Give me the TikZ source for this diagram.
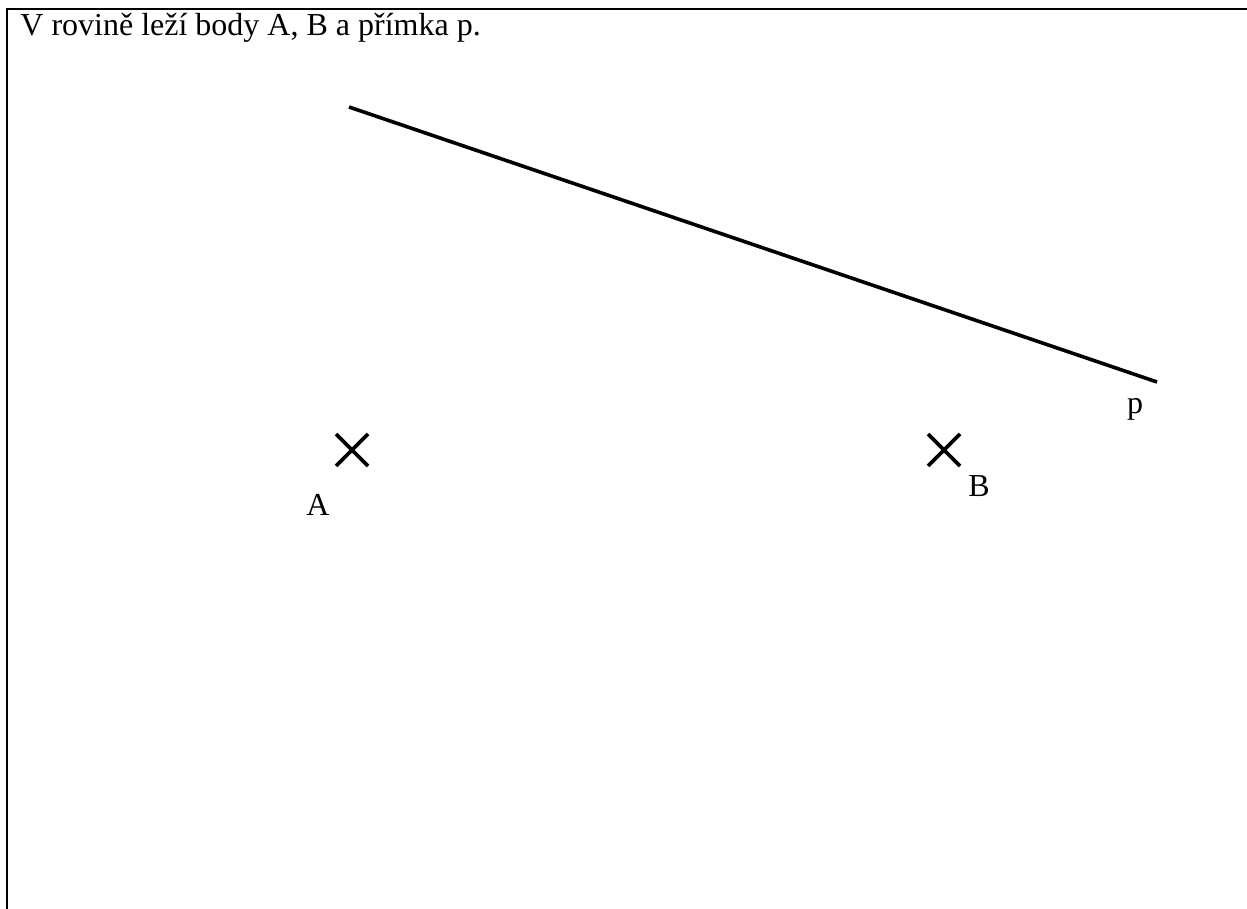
\documentclass[tikz,border=0pt]{standalone}
\usepackage{fontspec}
\setmainfont{Liberation Serif}
\begin{document}
\begin{tikzpicture}[x=0.5pt, y=-0.5pt, font=\fontsize{16}{19}\selectfont]
	\tikzset{bod/.style={line width=1.9pt}, popis/.style={inner sep=0pt, anchor=base}}
	\useasboundingbox (0,0) rectangle (1247,909);
	\draw[line width=1.4pt] (7,909) -- (7,9) -- (1247,9);
	\node[inner sep=0pt, anchor=base west] (zadani) at (20,36) {V rovině leží body A, B a přímka p.};
	\coordinate (p1) at (349,107);
	\coordinate (p2) at (1157,382);
	\draw[line width=1.8pt] (p1) -- (p2);
	\node[popis] (labelp) at (1135,413) {p};
	\coordinate (A) at (352,450);
	\coordinate (B) at (944,450);
	\foreach \P in {A, B}
		\draw[bod] (\P) ++(-16,-16) -- ++(32,32) (\P) ++(-16,16) -- ++(32,-32);
	\node[popis] (labelA) at (318,515) {A};
	\node[popis] (labelB) at (979,496) {B};
\end{tikzpicture}
\end{document}
